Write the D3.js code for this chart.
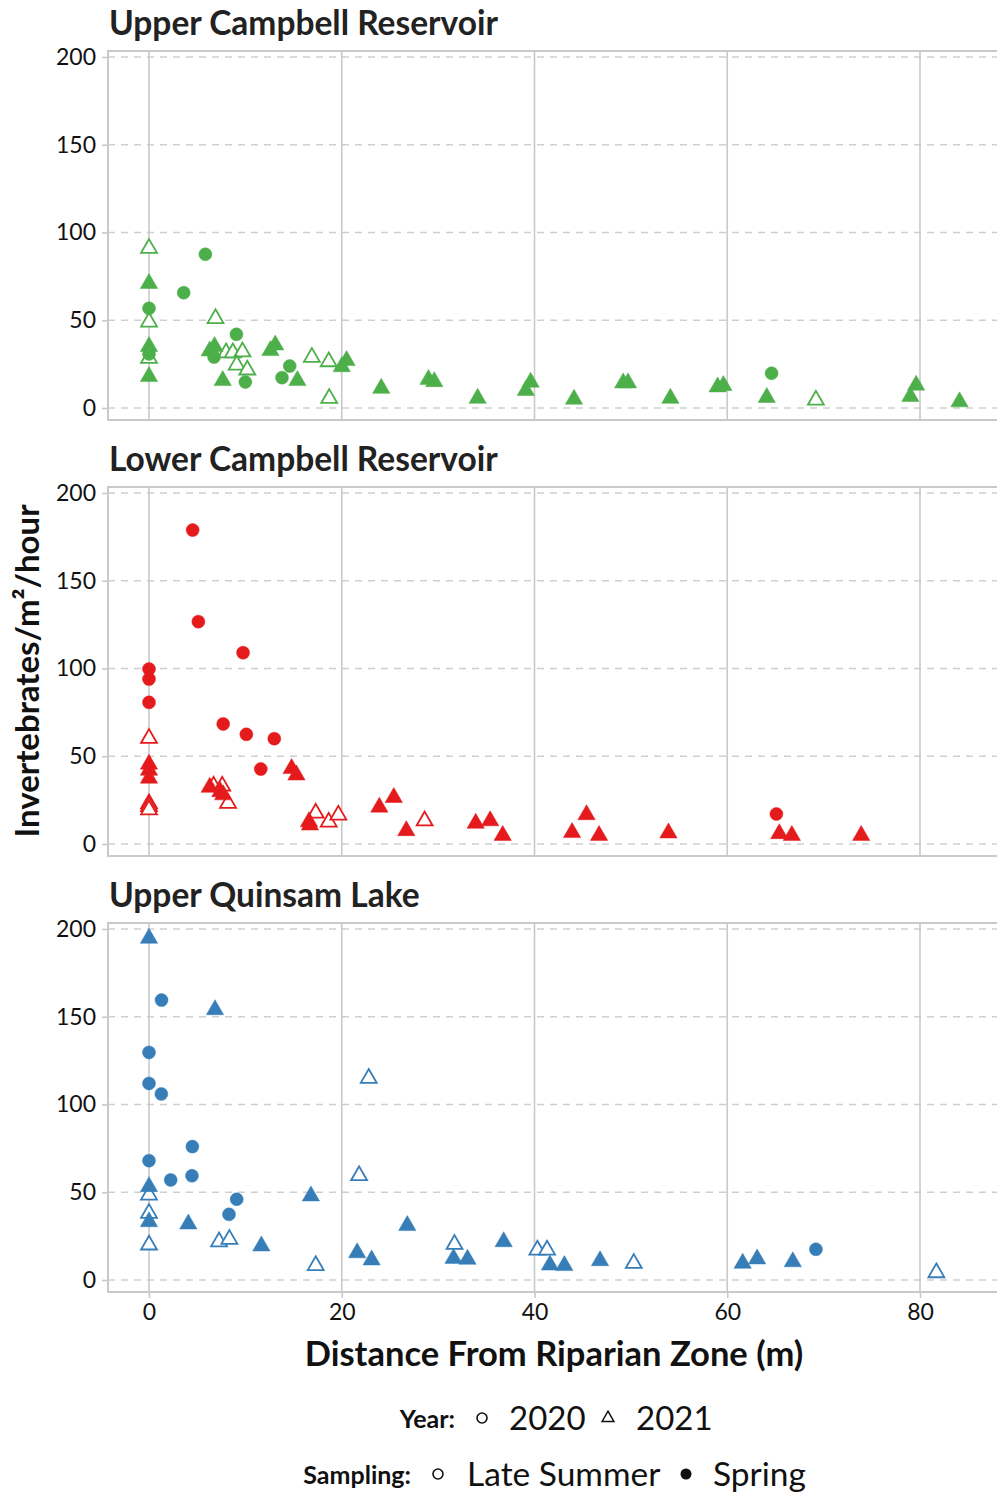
<!DOCTYPE html>
<html>
<head>
<meta charset="utf-8">
<script src="https://cdn.jsdelivr.net/npm/d3@7"></script>
<style>
  html, body { margin: 0; padding: 0; background: #fff; }
  svg { display: block; font-family: Lato, "Open Sans", sans-serif; }
</style>
</head>
<body>
<svg id="chart" width="997" height="1493"></svg>
<script>
// Panels, in drawing order
const lakes = ["Upper Campbell Reservoir", "Lower Campbell Reservoir", "Upper Quinsam Lake"];
const lakeColors = ["#4daf4a", "#e41a1c", "#377eb8"];

// Each record: [distance (m), invertebrates/m²/hour]
// Upper Campbell Reservoir
const ucSpring2020 = [[0,56.8],[0,30.8],[5.85,87.6],[3.6,65.7],[9.07,42],[6.75,29],[10.0,14.8],[14.6,23.9],[13.8,17.3],[64.6,19.8]];
const ucSpring2021 = [[0,71],[0,35],[0,17.9],[6.3,32.5],[6.8,35],[7.65,15.6],[12.6,32.7],[13.1,35.9],[15.4,15.6],[20.5,27],[20.0,23.5],[24.1,11.2],[29.0,16.3],[29.6,15],[34.1,5.5],[39.6,14.7],[39.1,10],[44.1,5],[49.2,14.3],[49.7,14.3],[54.1,5.5],[59.0,12],[59.6,12.8],[64.1,6],[79.6,13],[79.0,6.5],[84.1,3.5]];
const ucSummer2021 = [[0,91],[0,49],[0,28.3],[6.9,51],[8.0,31.5],[8.7,31.5],[9.7,32],[9.1,24.5],[10.2,21.7],[16.9,28.9],[18.65,26.4],[18.7,5.5],[69.2,4.5]];

// Lower Campbell Reservoir
const lcSpring2020 = [[4.53,178.9],[5.12,126.7],[9.76,109],[0,99.7],[0,94],[0,80.7],[7.7,68.4],[10.1,62.5],[13.0,60],[11.6,42.7],[65.1,17.1]];
const lcSpring2021 = [[0,45.5],[0,42],[0,37.5],[14.8,43],[15.3,39.3],[6.3,32.3],[7.4,29.8],[7.7,28],[16.6,12.7],[16.7,10.8],[23.9,21],[25.4,26.5],[26.7,7.6],[33.9,11.8],[35.4,13.2],[36.7,4.9],[45.4,16.7],[43.9,6.5],[46.7,4.9],[53.9,6.3],[65.4,5.9],[66.7,4.9],[73.9,4.9]];
const lcSummer2021 = [[0,60.2],[0,23],[0,21.3],[0,19.5],[6.7,33],[7.6,33],[8.2,23.2],[17.3,17.6],[18.65,12.5],[19.65,16.5],[28.6,13.2]];

// Upper Quinsam Lake
const uqSpring2020 = [[1.3,159.5],[0,129.7],[0,112],[1.28,106],[4.5,76],[0,68],[2.25,57],[4.46,59.4],[9.1,46],[8.3,37.4],[69.2,17.5]];
const uqSpring2021 = [[0,194.7],[6.85,154],[0,53.2],[0,33.2],[4.08,31.9],[11.66,19.4],[16.8,47.9],[21.6,15.5],[23.1,11.4],[26.8,31],[31.6,12.3],[33.05,11.8],[36.8,21.8],[41.6,8.5],[43.1,8.2],[46.8,11],[61.6,9.5],[63.1,12],[66.8,10.4]];
const uqSummer2021 = [[0,48.4],[0,38],[0,20],[7.27,21.8],[8.34,23.2],[17.3,8.3],[21.8,59.5],[22.8,115],[31.7,20.3],[40.3,17.1],[41.3,17.1],[50.3,9.5],[81.7,4.2]];

// Axis ticks
const xTicks = [0, 20, 40, 60, 80];
const yTicks = [0, 50, 100, 150, 200];

// Groups per panel: [points, year, sampling]
const panelGroups = [
  [[ucSummer2021, 2021, "Late Summer"], [ucSpring2021, 2021, "Spring"], [ucSpring2020, 2020, "Spring"]],
  [[lcSummer2021, 2021, "Late Summer"], [lcSpring2021, 2021, "Spring"], [lcSpring2020, 2020, "Spring"]],
  [[uqSummer2021, 2021, "Late Summer"], [uqSpring2021, 2021, "Spring"], [uqSpring2020, 2020, "Spring"]]
];

const svg = d3.select("#chart");

const left = 108, right = 997;
const panelTops = [51, 487, 923];
const panelH = 369;
const gridColor = "#c9c9c9";

const x = d3.scaleLinear().domain([0, 80]).range([left + 41, left + 812]);
const y = d3.scaleLinear().domain([0, 200]).range([panelH - 12, 6]);

const circleSym = d3.symbol().type(d3.symbolCircle).size(Math.PI * 6.5 * 6.5);
const triSym = d3.symbol().type(d3.symbolTriangle).size(130);
const triOpenSym = d3.symbol().type(d3.symbolTriangle).size(110);

lakes.forEach((lake, i) => {
  const top = panelTops[i];
  const g = svg.append("g").attr("transform", `translate(0,${top})`);
  const color = lakeColors[i];

  // Panel title
  svg.append("text")
    .attr("x", left + 1).attr("y", top - 16)
    .attr("font-size", 33.5).attr("font-weight", 700).attr("fill", "#222")
    .text(lake);

  // Horizontal dashed grid
  g.selectAll("line.hgrid").data(yTicks).join("line")
    .attr("class", "hgrid")
    .attr("x1", left).attr("x2", right)
    .attr("y1", d => y(d)).attr("y2", d => y(d))
    .attr("stroke", "#cfcfcf").attr("stroke-width", 1.6)
    .attr("stroke-dasharray", "7,6");

  // Vertical solid grid
  g.selectAll("line.vgrid").data(xTicks).join("line")
    .attr("class", "vgrid")
    .attr("x1", d => x(d)).attr("x2", d => x(d))
    .attr("y1", 0).attr("y2", panelH)
    .attr("stroke", gridColor).attr("stroke-width", 1.6);

  // Panel frame (top, left, bottom)
  g.append("path")
    .attr("d", `M${right},0H${left}V${panelH}H${right}`)
    .attr("fill", "none").attr("stroke", gridColor).attr("stroke-width", 2);

  // Y axis
  const yAxis = g.append("g").attr("transform", `translate(${left},0)`)
    .call(d3.axisLeft(y).tickValues(yTicks).tickSize(6).tickPadding(6));
  yAxis.select(".domain").remove();
  yAxis.selectAll(".tick line").attr("stroke", gridColor).attr("stroke-width", 1.6);
  yAxis.selectAll(".tick text").attr("font-size", 23).attr("fill", "#111")
    .attr("font-family", "Lato, sans-serif");

  // X axis on the bottom panel only
  if (i === lakes.length - 1) {
    const xAxis = g.append("g").attr("transform", `translate(0,${panelH})`)
      .call(d3.axisBottom(x).tickValues(xTicks).tickSize(6).tickPadding(6));
    xAxis.select(".domain").remove();
    xAxis.selectAll(".tick line").attr("stroke", gridColor).attr("stroke-width", 1.6);
    xAxis.selectAll(".tick text").attr("font-size", 23).attr("fill", "#111")
      .attr("font-family", "Lato, sans-serif");
  }

  // Points
  panelGroups[i].forEach(([pts, year, sampling]) => {
    const filled = sampling === "Spring";
    g.selectAll(null).data(pts).join("path")
      .attr("transform", d => `translate(${x(d[0])},${y(d[1])})`)
      .attr("d", year === 2020 ? circleSym : (filled ? triSym : triOpenSym))
      .attr("fill", filled ? color : "#fff")
      .attr("stroke", color)
      .attr("stroke-width", filled ? 0.5 : 1.8);
  });
});

// Axis titles
svg.append("text")
  .attr("x", 554).attr("y", 1366)
  .attr("text-anchor", "middle")
  .attr("font-size", 34.5).attr("font-weight", 700).attr("fill", "#111")
  .text("Distance From Riparian Zone (m)");

svg.append("text")
  .attr("transform", "translate(39,671) rotate(-90)")
  .attr("text-anchor", "middle")
  .attr("font-size", 33).attr("font-weight", 700).attr("fill", "#111")
  .text("Invertebrates/m²/hour");

// Legend
const leg = svg.append("g");
// Year row
leg.append("text").attr("x", 455).attr("y", 1428).attr("text-anchor", "end")
  .attr("font-size", 25).attr("font-weight", 700).attr("fill", "#111").text("Year:");
leg.append("circle").attr("cx", 482).attr("cy", 1418).attr("r", 5)
  .attr("fill", "none").attr("stroke", "#111").attr("stroke-width", 1.6);
leg.append("text").attr("x", 509).attr("y", 1430)
  .attr("font-size", 33).attr("fill", "#111").text("2020");
leg.append("path").attr("transform", "translate(608,1418)")
  .attr("d", d3.symbol().type(d3.symbolTriangle).size(60)())
  .attr("fill", "none").attr("stroke", "#111").attr("stroke-width", 1.5);
leg.append("text").attr("x", 636).attr("y", 1430)
  .attr("font-size", 33).attr("fill", "#111").text("2021");
// Sampling row
leg.append("text").attr("x", 411).attr("y", 1484).attr("text-anchor", "end")
  .attr("font-size", 25).attr("font-weight", 700).attr("fill", "#111").text("Sampling:");
leg.append("circle").attr("cx", 438).attr("cy", 1474).attr("r", 5)
  .attr("fill", "none").attr("stroke", "#111").attr("stroke-width", 1.6);
leg.append("text").attr("x", 467).attr("y", 1486)
  .attr("font-size", 33.5).attr("fill", "#111").text("Late Summer");
leg.append("circle").attr("cx", 686).attr("cy", 1474).attr("r", 5.5)
  .attr("fill", "#111");
leg.append("text").attr("x", 713).attr("y", 1486)
  .attr("font-size", 33.5).attr("fill", "#111").text("Spring");
</script>
</body>
</html>
